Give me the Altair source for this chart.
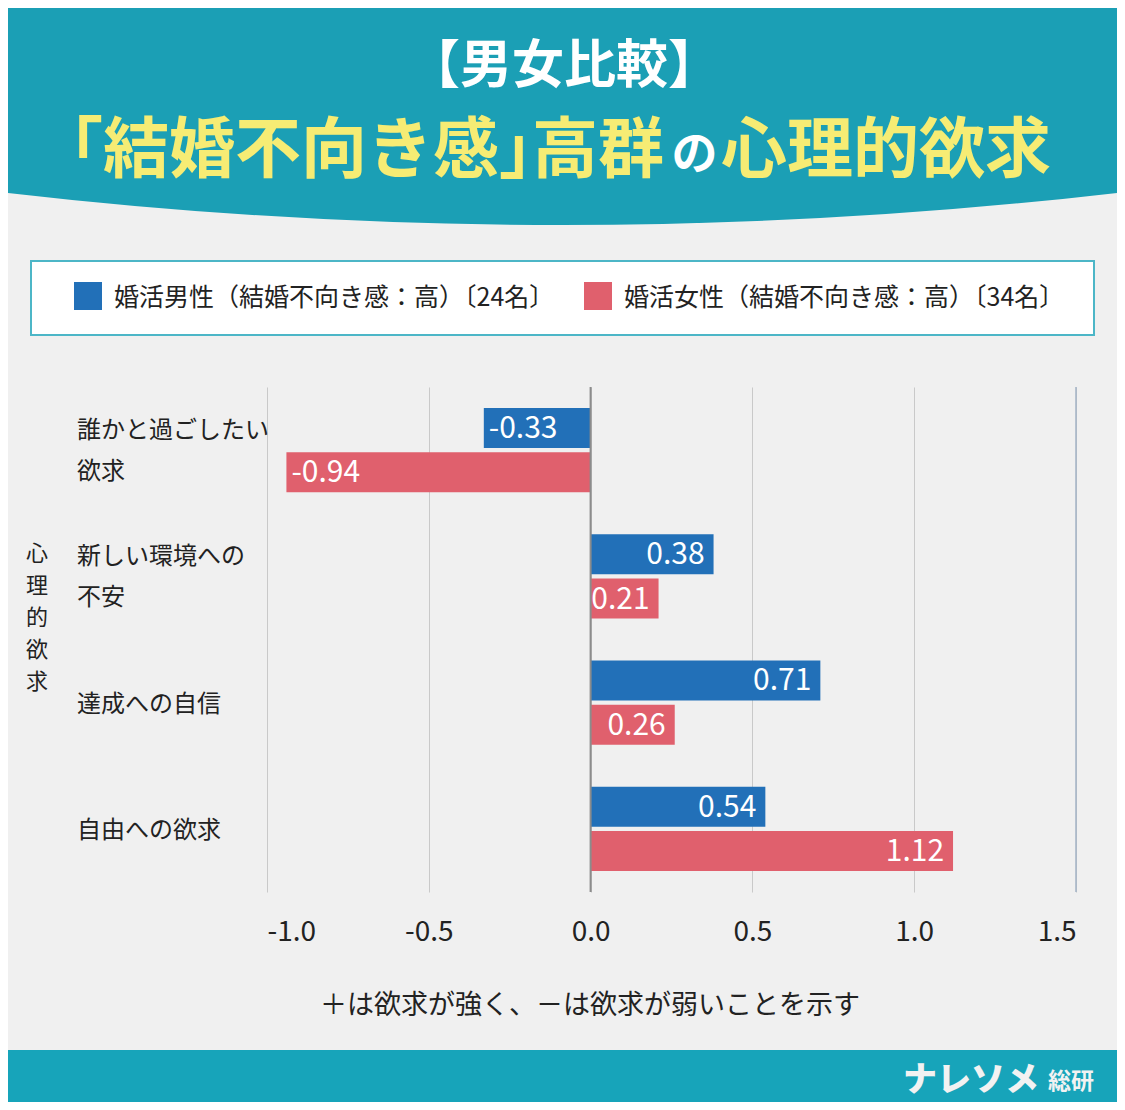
import altair as alt
import pandas as pd

FONT = "Noto Sans CJK JP"

# ---- data ----
categories = ["誰かと過ごしたい\n欲求", "新しい環境への\n不安", "達成への自信", "自由への欲求"]
male_values = [-0.33, 0.38, 0.71, 0.54]
female_values = [-0.94, 0.21, 0.26, 1.12]
series_names = ["婚活男性（結婚不向き感：高）〔24名〕", "婚活女性（結婚不向き感：高）〔34名〕"]
series_colors = ["#2270b8", "#e0606d"]
x_ticks = [-1.0, -0.5, 0.0, 0.5, 1.0, 1.5]
x_domain = [-1.0, 1.5]

title_line1 = "【男女比較】"
title_head = "｢結婚不向き感｣高群"
title_no = "の"
title_tail = "心理的欲求"
axis_title = "心理的欲求"
footnote = "＋は欲求が強く、－は欲求が弱いことを示す"
logo_main = "ナレソメ"
logo_sub = "総研"

rows = []
for i, c in enumerate(categories):
    rows.append({"cat": c, "series": series_names[0], "value": male_values[i]})
    rows.append({"cat": c, "series": series_names[1], "value": female_values[i]})
df = pd.DataFrame(rows)
cat_df = pd.DataFrame({"cat": categories})
one = pd.DataFrame({"k": [0]})

# ---- layout ----
W, H = 809, 505
OX, OY = 267, 387  # page position of plot origin


def px(x):
    return x - OX


def py(y):
    return y - OY


TEAL = "#1b9fb5"
FOOT = "#17a4ba"
YELLOW = "#f6ec74"
DARK = "#222222"

y_enc = alt.Y("cat:N", sort=categories,
              scale=alt.Scale(domain=categories, paddingInner=0.3315, paddingOuter=0.1657),
              axis=None)
yoff_enc = alt.YOffset("series:N", sort=series_names,
                       scale=alt.Scale(domain=series_names, paddingInner=0.1, paddingOuter=0))
x_scale = alt.Scale(domain=x_domain, nice=False, zero=False)

# header shape
HEADER_PATH = "M-1,-0.05L1,-0.05L1,0.3413Q0,0.4587,-1,0.3413Z"
header = alt.Chart(one).mark_point(
    shape=HEADER_PATH, size=1125 * 1125, filled=True, color=TEAL, opacity=1, strokeWidth=0
).encode(x=alt.value(px(562.5)), y=alt.value(py(0)))


def txt(text, x, y, size, color, align="left", weight="normal", baseline="alphabetic", **kw):
    props = dict(text=text, align=align, baseline=baseline, fontSize=size, color=color,
                 font=FONT, fontWeight=weight)
    props.update(kw)
    return alt.Chart(one).mark_text(**props).encode(x=alt.value(px(x)), y=alt.value(py(y)))


titles = [
    txt(title_line1, 564, 83, 52, "white", align="center", weight="bold"),
    txt(title_head, 70, 172, 66, YELLOW, weight="bold"),
    txt(title_no, 694.5, 169, 46, "white", align="center", weight="bold"),
    txt(title_tail, 721, 172, 66, YELLOW, weight="bold"),
]

# legend
legend_box = alt.Chart(one).mark_rect(fill="white", stroke="#4cb6c7", strokeWidth=2).encode(
    x=alt.value(px(31)), x2=alt.value(px(1094)), y=alt.value(py(261)), y2=alt.value(py(335)))
sq1 = alt.Chart(one).mark_rect(color=series_colors[0]).encode(
    x=alt.value(px(74)), x2=alt.value(px(102)), y=alt.value(py(282)), y2=alt.value(py(310)))
sq2 = alt.Chart(one).mark_rect(color=series_colors[1]).encode(
    x=alt.value(px(584)), x2=alt.value(px(612)), y=alt.value(py(282)), y2=alt.value(py(310)))
leg_t1 = txt(series_names[0], 114, 306, 25, DARK)
leg_t2 = txt(series_names[1], 624, 306, 25, DARK)

# bars
bars = alt.Chart(df).mark_bar().encode(
    x=alt.X("value:Q", scale=x_scale,
            axis=alt.Axis(values=x_ticks, title=None, grid=True, gridColor="#c9c9c9", gridWidth=1,
                          domain=False, ticks=False, tickSize=0, labelFontSize=28,
                          labelColor=DARK, labelFont=FONT, labelPadding=26,
                          labelExpr="(datum.value < 0 ? '-' : '') + format(abs(datum.value), '.1f')")),
    x2=alt.datum(0),
    y=y_enc,
    yOffset=yoff_enc,
    color=alt.Color("series:N", scale=alt.Scale(domain=series_names, range=series_colors), legend=None),
)

lab = alt.Chart(df).transform_calculate(
    lbl="(datum.value < 0 ? '-' : '') + format(abs(datum.value), '.2f')")
neg_labels = lab.transform_filter("datum.value < 0").mark_text(
    align="left", baseline="middle", dx=5, dy=1, fontSize=30, color="white", font=FONT
).encode(x=alt.X("value:Q", scale=x_scale), y=y_enc, yOffset=yoff_enc, text="lbl:N")
pos_labels = lab.transform_filter("datum.value >= 0").mark_text(
    align="right", baseline="middle", dx=-9, dy=1, fontSize=30, color="white", font=FONT
).encode(x=alt.X("value:Q", scale=x_scale), y=y_enc, yOffset=yoff_enc, text="lbl:N")

zero_rule = alt.Chart(one).mark_rule(color="#8c8c8c", strokeWidth=2).encode(x=alt.datum(0.0))
edge_rule = alt.Chart(one).mark_rule(color="#a3b3c6", strokeWidth=1.5).encode(x=alt.datum(1.5))

# category labels: two-line ones shifted up by half a line so the block is centred
cat_two = alt.Chart(cat_df).transform_filter("indexof(datum.cat, '\\n') >= 0").mark_text(
    align="left", baseline="middle", lineBreak="\n", lineHeight=41, fontSize=24,
    color=DARK, font=FONT, dy=-19
).encode(y=alt.Y("cat:N", sort=categories), x=alt.value(px(77)), text="cat:N")
cat_one = alt.Chart(cat_df).transform_filter("indexof(datum.cat, '\\n') < 0").mark_text(
    align="left", baseline="middle", fontSize=24, color=DARK, font=FONT, dy=2
).encode(y=alt.Y("cat:N", sort=categories), x=alt.value(px(77)), text="cat:N")

ytitle = alt.Chart(one).mark_text(
    text="\n".join(list(axis_title)), lineBreak="\n", lineHeight=32, fontSize=22,
    align="center", baseline="middle", color=DARK, font=FONT, dy=2
).encode(x=alt.value(px(37)), y=alt.value(py(552)))

note = txt(footnote, 590, 1014, 27, DARK, align="center")

footer = alt.Chart(one).mark_rect(color=FOOT).encode(
    x=alt.value(px(0)), x2=alt.value(px(1125)), y=alt.value(py(1050)), y2=alt.value(py(1112)))
logo1 = txt(logo_main, 903, 1091, 34, "#f2f2f2", weight=900)
logo2 = txt(logo_sub, 1048, 1089, 23, "#f2f2f2", weight="bold")

chart = alt.layer(
    header, *titles,
    legend_box, sq1, sq2, leg_t1, leg_t2,
    bars, zero_rule, edge_rule, neg_labels, pos_labels,
    cat_two, cat_one, ytitle, note,
    footer, logo1, logo2,
).properties(
    width=W, height=H,
    autosize=alt.AutoSizeParams(type="none"),
    padding={"left": 259, "top": 379, "right": 41, "bottom": 210},
    background="#f0f0f0",
).configure_view(strokeWidth=0)

chart.save("out.html", embed_options={"renderer": "svg", "actions": False})
